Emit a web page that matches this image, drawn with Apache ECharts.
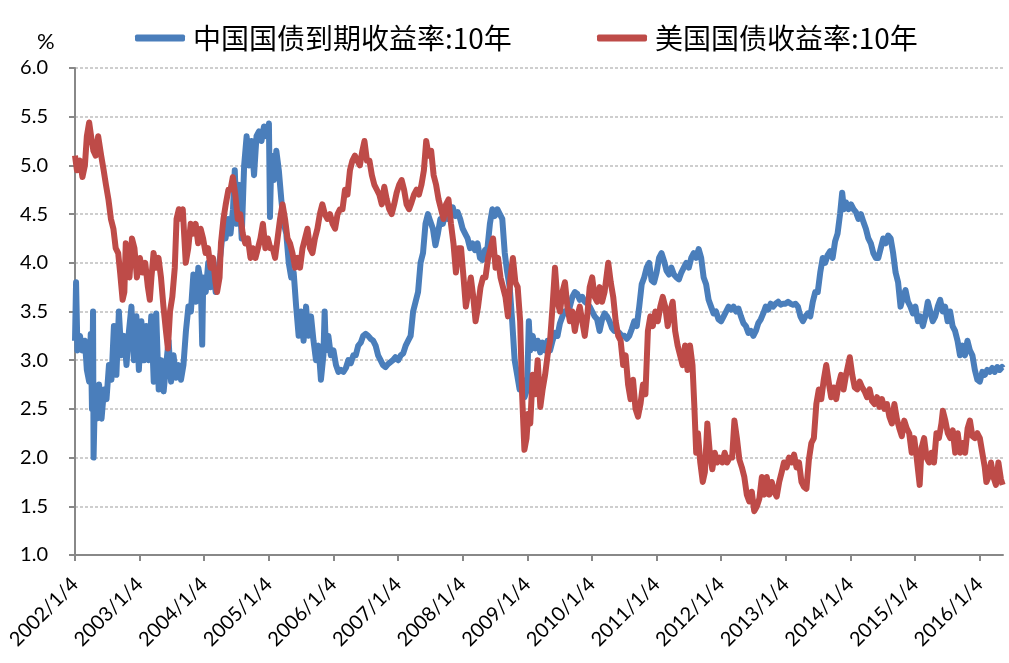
<!DOCTYPE html>
<html>
<head>
<meta charset="utf-8">
<script src="https://cdn.jsdelivr.net/npm/echarts@6/dist/echarts.min.js"></script>
<style>html,body{margin:0;padding:0;background:#fff;}#chart{width:1009px;height:663px;}</style>
</head>
<body>
<div id="chart"></div>
<script>
const seriesNames = ['中国国债到期收益率:10年', '美国国债收益率:10年'];
const xTickLabels = ['2002/1/4','2003/1/4','2004/1/4','2005/1/4','2006/1/4','2007/1/4','2008/1/4','2009/1/4','2010/1/4','2011/1/4','2012/1/4','2013/1/4','2014/1/4','2015/1/4','2016/1/4'];
const xStart = '2002-01-04';
const xEnd = '2016-05-15';
const yTicks = [1.0,1.5,2.0,2.5,3.0,3.5,4.0,4.5,5.0,5.5,6.0];

const cnYield = [
["2002-01-04",3.20],["2002-01-10",3.80],["2002-01-18",3.10],["2002-02-01",3.25],["2002-02-15",3.10],["2002-03-01",3.20],["2002-03-12",2.90],["2002-03-25",2.78],["2002-04-03",3.27],["2002-04-10",2.50],["2002-04-16",3.50],["2002-04-19",2.00],["2002-04-26",2.60],["2002-05-08",2.40],["2002-05-20",2.75],["2002-06-03",2.40],["2002-06-17",2.70],["2002-07-01",2.60],["2002-07-15",2.95],["2002-07-29",2.80],["2002-08-12",3.35],["2002-08-26",2.85],["2002-09-09",3.50],["2002-09-23",3.05],["2002-10-08",3.25],["2002-10-22",2.95],["2002-11-05",3.30],["2002-11-19",3.55],["2002-12-03",3.00],["2002-12-17",3.45],["2002-12-31",2.90],
["2003-01-14",3.40],["2003-01-28",3.00],["2003-02-11",3.35],["2003-02-25",3.00],["2003-03-11",3.45],["2003-03-25",2.78],["2003-04-08",3.48],["2003-04-22",2.70],["2003-05-06",3.00],["2003-05-20",2.68],["2003-06-03",2.95],["2003-06-17",3.20],["2003-07-01",2.78],["2003-07-15",3.05],["2003-07-29",2.82],["2003-08-12",2.95],["2003-08-26",2.80],["2003-09-09",2.95],["2003-09-23",3.30],["2003-10-07",3.55],["2003-10-21",3.50],["2003-11-04",3.88],["2003-11-18",3.60],["2003-12-02",3.95],["2003-12-16",3.80],["2003-12-24",3.16],["2003-12-30",3.85],
["2004-01-13",3.70],["2004-01-27",4.00],["2004-02-10",3.75],["2004-02-24",3.95],["2004-03-09",3.70],["2004-03-23",3.90],["2004-04-06",4.10],["2004-04-20",4.35],["2004-05-04",4.25],["2004-05-18",4.45],["2004-06-01",4.30],["2004-06-15",4.55],["2004-06-25",4.95],["2004-07-06",4.40],["2004-07-20",4.80],["2004-08-03",4.25],["2004-08-17",5.00],["2004-08-31",5.30],["2004-09-14",5.00],["2004-09-28",5.25],["2004-10-12",4.90],["2004-10-26",5.30],["2004-11-09",5.35],["2004-11-23",5.25],["2004-12-07",5.40],["2004-12-21",5.30],
["2005-01-04",5.43],["2005-01-10",4.47],["2005-01-18",5.10],["2005-02-01",4.85],["2005-02-15",5.15],["2005-03-01",4.95],["2005-03-15",4.65],["2005-03-29",4.40],["2005-04-12",4.30],["2005-04-26",4.00],["2005-05-10",3.85],["2005-05-24",3.90],["2005-06-07",3.55],["2005-06-21",3.25],["2005-07-05",3.50],["2005-07-19",3.20],["2005-08-02",3.55],["2005-08-16",3.25],["2005-08-30",3.45],["2005-09-13",3.20],["2005-09-27",3.00],["2005-10-11",3.15],["2005-10-25",2.80],["2005-11-08",3.05],["2005-11-15",3.50],["2005-11-22",3.10],["2005-12-06",3.25],["2005-12-20",3.05],
["2006-01-04",3.10],["2006-01-18",2.95],["2006-02-01",2.88],["2006-02-15",2.90],["2006-03-01",2.88],["2006-03-15",2.92],["2006-03-29",3.00],["2006-04-12",2.97],["2006-04-26",3.05],["2006-05-10",3.05],["2006-05-24",3.15],["2006-06-07",3.18],["2006-06-21",3.25],["2006-07-05",3.27],["2006-07-19",3.25],["2006-08-02",3.22],["2006-08-16",3.20],["2006-08-30",3.15],["2006-09-13",3.05],["2006-09-27",3.00],["2006-10-11",2.95],["2006-10-25",2.93],["2006-11-08",2.96],["2006-11-22",2.98],["2006-12-06",3.00],["2006-12-20",3.03],
["2007-01-05",3.00],["2007-01-19",3.05],["2007-02-02",3.07],["2007-02-16",3.15],["2007-03-02",3.20],["2007-03-16",3.25],["2007-03-30",3.50],["2007-04-13",3.60],["2007-04-27",3.70],["2007-05-11",4.00],["2007-05-25",4.10],["2007-06-08",4.40],["2007-06-22",4.50],["2007-07-06",4.42],["2007-07-20",4.35],["2007-08-03",4.18],["2007-08-17",4.30],["2007-08-31",4.45],["2007-09-14",4.40],["2007-09-28",4.50],["2007-10-12",4.45],["2007-10-26",4.50],["2007-11-09",4.57],["2007-11-23",4.48],["2007-12-07",4.52],["2007-12-21",4.45],
["2008-01-04",4.35],["2008-01-18",4.30],["2008-02-01",4.25],["2008-02-15",4.15],["2008-02-29",4.20],["2008-03-14",4.13],["2008-03-28",4.20],["2008-04-11",4.05],["2008-04-25",4.03],["2008-05-09",4.13],["2008-05-23",4.15],["2008-06-06",4.40],["2008-06-20",4.55],["2008-07-04",4.48],["2008-07-18",4.55],["2008-08-01",4.50],["2008-08-15",4.45],["2008-08-29",4.10],["2008-09-12",3.90],["2008-09-26",3.75],["2008-10-10",3.40],["2008-10-24",3.00],["2008-11-07",2.85],["2008-11-21",2.70],["2008-12-05",2.80],["2008-12-19",2.62],
["2009-01-02",2.70],["2009-01-12",3.40],["2009-01-20",3.10],["2009-02-03",3.25],["2009-02-17",3.12],["2009-03-03",3.20],["2009-03-17",3.08],["2009-03-31",3.18],["2009-04-14",3.10],["2009-04-28",3.20],["2009-05-12",3.10],["2009-05-26",3.20],["2009-06-09",3.28],["2009-06-23",3.25],["2009-07-07",3.38],["2009-07-21",3.45],["2009-08-04",3.50],["2009-08-18",3.48],["2009-09-01",3.55],["2009-09-15",3.65],["2009-09-29",3.70],["2009-10-13",3.68],["2009-10-27",3.62],["2009-11-10",3.65],["2009-11-24",3.60],["2009-12-08",3.58],["2009-12-22",3.55],
["2010-01-05",3.50],["2010-01-19",3.45],["2010-02-02",3.42],["2010-02-16",3.30],["2010-03-02",3.42],["2010-03-16",3.48],["2010-03-30",3.45],["2010-04-13",3.40],["2010-04-27",3.33],["2010-05-11",3.30],["2010-05-25",3.30],["2010-06-08",3.28],["2010-06-22",3.25],["2010-07-06",3.25],["2010-07-20",3.22],["2010-08-03",3.25],["2010-08-17",3.32],["2010-08-31",3.40],["2010-09-14",3.35],["2010-09-28",3.55],["2010-10-12",3.78],["2010-10-26",3.85],["2010-11-09",3.95],["2010-11-23",4.00],["2010-12-07",3.82],["2010-12-21",3.80],
["2011-01-04",3.90],["2011-01-18",4.05],["2011-02-01",4.10],["2011-02-15",4.02],["2011-03-01",3.92],["2011-03-15",3.88],["2011-03-29",3.95],["2011-04-12",3.88],["2011-04-26",3.85],["2011-05-10",3.83],["2011-05-24",3.90],["2011-06-07",3.95],["2011-06-21",4.00],["2011-07-05",3.95],["2011-07-19",4.05],["2011-08-02",4.10],["2011-08-16",4.05],["2011-08-30",4.14],["2011-09-13",4.05],["2011-09-27",3.85],["2011-10-11",3.78],["2011-10-25",3.62],["2011-11-08",3.55],["2011-11-22",3.48],["2011-12-06",3.50],["2011-12-20",3.42],
["2012-01-04",3.40],["2012-01-18",3.45],["2012-02-01",3.50],["2012-02-15",3.55],["2012-02-29",3.52],["2012-03-14",3.55],["2012-03-28",3.50],["2012-04-11",3.53],["2012-04-25",3.45],["2012-05-09",3.38],["2012-05-23",3.35],["2012-06-06",3.28],["2012-06-20",3.30],["2012-07-04",3.25],["2012-07-18",3.30],["2012-08-01",3.38],["2012-08-15",3.42],["2012-08-29",3.48],["2012-09-12",3.55],["2012-09-26",3.52],["2012-10-10",3.58],["2012-10-24",3.55],["2012-11-07",3.58],["2012-11-21",3.60],["2012-12-05",3.57],["2012-12-19",3.58],
["2013-01-02",3.58],["2013-01-16",3.60],["2013-01-30",3.58],["2013-02-13",3.57],["2013-02-27",3.58],["2013-03-13",3.55],["2013-03-27",3.45],["2013-04-10",3.40],["2013-04-24",3.45],["2013-05-08",3.48],["2013-05-22",3.45],["2013-06-05",3.60],["2013-06-19",3.70],["2013-07-03",3.70],["2013-07-17",3.90],["2013-07-31",4.05],["2013-08-14",4.00],["2013-08-28",4.08],["2013-09-11",4.12],["2013-09-25",4.05],["2013-10-09",4.22],["2013-10-23",4.30],["2013-11-06",4.50],["2013-11-18",4.72],["2013-11-28",4.55],["2013-12-10",4.62],["2013-12-24",4.55],
["2014-01-07",4.60],["2014-01-21",4.55],["2014-02-04",4.52],["2014-02-18",4.45],["2014-03-04",4.50],["2014-03-18",4.42],["2014-04-01",4.35],["2014-04-15",4.25],["2014-04-29",4.20],["2014-05-13",4.10],["2014-05-27",4.05],["2014-06-10",4.05],["2014-06-24",4.15],["2014-07-08",4.25],["2014-07-22",4.20],["2014-08-05",4.28],["2014-08-19",4.25],["2014-09-02",4.10],["2014-09-16",3.90],["2014-09-30",3.80],["2014-10-14",3.55],["2014-10-28",3.65],["2014-11-11",3.72],["2014-11-25",3.60],["2014-12-09",3.55],["2014-12-23",3.48],
["2015-01-06",3.55],["2015-01-20",3.40],["2015-02-03",3.45],["2015-02-17",3.35],["2015-03-03",3.45],["2015-03-17",3.60],["2015-03-31",3.50],["2015-04-14",3.40],["2015-04-28",3.45],["2015-05-12",3.55],["2015-05-26",3.62],["2015-06-09",3.50],["2015-06-23",3.55],["2015-07-07",3.40],["2015-07-21",3.50],["2015-08-04",3.35],["2015-08-18",3.30],["2015-09-01",3.20],["2015-09-15",3.05],["2015-09-29",3.15],["2015-10-13",3.05],["2015-10-27",3.20],["2015-11-10",3.10],["2015-11-24",3.05],["2015-12-08",2.90],["2015-12-22",2.80],
["2016-01-05",2.78],["2016-01-19",2.88],["2016-02-02",2.85],["2016-02-16",2.90],["2016-03-01",2.88],["2016-03-15",2.92],["2016-03-29",2.88],["2016-04-12",2.93],["2016-04-26",2.90],["2016-05-10",2.93],["2016-05-13",2.92]
];

const usYield = [
["2002-01-04",5.10],["2002-01-15",4.95],["2002-02-01",5.05],["2002-02-15",4.88],["2002-03-01",5.00],["2002-03-12",5.30],["2002-03-25",5.44],["2002-04-05",5.30],["2002-04-18",5.15],["2002-05-01",5.10],["2002-05-15",5.30],["2002-06-01",5.10],["2002-06-15",4.95],["2002-06-28",4.80],["2002-07-12",4.65],["2002-07-26",4.45],["2002-08-09",4.35],["2002-08-22",4.15],["2002-09-05",4.10],["2002-09-16",3.90],["2002-09-30",3.62],["2002-10-10",3.70],["2002-10-18",4.20],["2002-11-01",3.95],["2002-11-08",3.85],["2002-11-22",4.25],["2002-12-06",4.15],["2002-12-20",3.85],
["2003-01-06",4.05],["2003-01-20",3.90],["2003-02-05",4.00],["2003-02-20",3.75],["2003-03-03",3.62],["2003-03-12",3.85],["2003-03-24",4.10],["2003-04-07",3.95],["2003-04-21",4.05],["2003-05-05",3.85],["2003-05-19",3.55],["2003-06-02",3.30],["2003-06-13",3.12],["2003-06-25",3.50],["2003-07-08",3.65],["2003-07-22",3.95],["2003-08-01",4.45],["2003-08-14",4.55],["2003-08-28",4.45],["2003-09-05",4.55],["2003-09-22",4.00],["2003-10-06",4.15],["2003-10-20",4.40],["2003-11-03",4.30],["2003-11-17",4.40],["2003-12-01",4.20],["2003-12-15",4.35],["2003-12-29",4.25],
["2004-01-12",4.10],["2004-01-26",4.15],["2004-02-09",3.95],["2004-02-23",4.05],["2004-03-08",3.80],["2004-03-17",3.70],["2004-03-31",3.85],["2004-04-08",4.20],["2004-04-22",4.45],["2004-05-05",4.60],["2004-05-20",4.75],["2004-06-01",4.75],["2004-06-14",4.88],["2004-06-28",4.70],["2004-07-12",4.45],["2004-07-26",4.50],["2004-08-09",4.30],["2004-08-23",4.20],["2004-09-07",4.25],["2004-09-22",4.05],["2004-10-05",4.15],["2004-10-20",4.05],["2004-11-03",4.15],["2004-11-17",4.25],["2004-12-01",4.40],["2004-12-15",4.15],["2004-12-29",4.25],
["2005-01-12",4.15],["2005-01-26",4.15],["2005-02-08",4.05],["2005-02-22",4.25],["2005-03-08",4.45],["2005-03-22",4.60],["2005-04-05",4.45],["2005-04-19",4.25],["2005-05-03",4.20],["2005-05-17",4.10],["2005-06-01",3.95],["2005-06-15",4.05],["2005-06-29",3.95],["2005-07-13",4.15],["2005-07-27",4.25],["2005-08-10",4.35],["2005-08-24",4.15],["2005-09-07",4.10],["2005-09-21",4.25],["2005-10-05",4.35],["2005-10-19",4.50],["2005-11-02",4.60],["2005-11-16",4.50],["2005-12-01",4.45],["2005-12-15",4.50],["2005-12-30",4.40],
["2006-01-13",4.35],["2006-01-27",4.50],["2006-02-10",4.55],["2006-02-24",4.55],["2006-03-10",4.75],["2006-03-24",4.70],["2006-04-07",4.95],["2006-04-21",5.05],["2006-05-05",5.10],["2006-05-19",5.05],["2006-06-02",5.00],["2006-06-16",5.15],["2006-06-28",5.25],["2006-07-12",5.05],["2006-07-26",5.05],["2006-08-09",4.90],["2006-08-23",4.80],["2006-09-06",4.75],["2006-09-20",4.70],["2006-10-04",4.60],["2006-10-18",4.78],["2006-11-01",4.65],["2006-11-15",4.55],["2006-11-29",4.50],["2006-12-13",4.60],["2006-12-27",4.72],
["2007-01-10",4.80],["2007-01-24",4.85],["2007-02-07",4.75],["2007-02-21",4.60],["2007-03-07",4.55],["2007-03-21",4.62],["2007-04-04",4.70],["2007-04-18",4.75],["2007-05-02",4.70],["2007-05-16",4.80],["2007-05-30",4.95],["2007-06-12",5.25],["2007-06-26",5.10],["2007-07-10",5.15],["2007-07-24",4.90],["2007-08-07",4.80],["2007-08-21",4.65],["2007-09-04",4.55],["2007-09-18",4.45],["2007-10-02",4.60],["2007-10-16",4.65],["2007-10-30",4.40],["2007-11-13",4.20],["2007-11-27",3.90],["2007-12-11",4.15],["2007-12-26",4.15],
["2008-01-09",3.85],["2008-01-22",3.55],["2008-02-05",3.70],["2008-02-19",3.85],["2008-03-04",3.65],["2008-03-17",3.40],["2008-03-31",3.55],["2008-04-14",3.75],["2008-04-28",3.85],["2008-05-12",3.85],["2008-05-27",4.05],["2008-06-10",4.15],["2008-06-24",4.25],["2008-07-08",3.95],["2008-07-22",4.05],["2008-08-05",3.85],["2008-08-19",3.75],["2008-09-02",3.65],["2008-09-16",3.45],["2008-09-30",3.85],["2008-10-14",4.05],["2008-10-28",3.80],["2008-11-10",3.75],["2008-11-24",3.40],["2008-12-05",2.65],["2008-12-18",2.08],["2008-12-30",2.20],
["2009-01-09",2.45],["2009-01-20",2.35],["2009-02-03",2.85],["2009-02-17",2.65],["2009-03-03",3.00],["2009-03-18",2.52],["2009-03-31",2.70],["2009-04-14",2.85],["2009-04-28",3.05],["2009-05-12",3.20],["2009-05-26",3.55],["2009-06-09",3.95],["2009-06-23",3.60],["2009-07-07",3.50],["2009-07-21",3.70],["2009-08-04",3.80],["2009-08-18",3.55],["2009-09-01",3.40],["2009-09-15",3.50],["2009-09-29",3.30],["2009-10-13",3.45],["2009-10-27",3.55],["2009-11-10",3.40],["2009-11-24",3.25],["2009-12-08",3.45],["2009-12-22",3.75],
["2010-01-05",3.85],["2010-01-19",3.65],["2010-02-02",3.60],["2010-02-16",3.75],["2010-03-02",3.60],["2010-03-16",3.70],["2010-03-30",3.90],["2010-04-06",4.00],["2010-04-20",3.80],["2010-05-04",3.65],["2010-05-18",3.40],["2010-06-01",3.25],["2010-06-15",3.20],["2010-06-29",2.95],["2010-07-13",3.05],["2010-07-27",2.75],["2010-08-10",2.60],["2010-08-24",2.80],["2010-09-07",2.50],["2010-09-21",2.42],["2010-10-05",2.55],["2010-10-19",2.75],["2010-11-02",2.65],["2010-11-16",3.30],["2010-11-30",3.45],["2010-12-14",3.35],["2010-12-28",3.50],
["2011-01-11",3.40],["2011-01-25",3.55],["2011-02-08",3.65],["2011-02-22",3.55],["2011-03-08",3.35],["2011-03-22",3.50],["2011-04-05",3.60],["2011-04-19",3.30],["2011-05-03",3.15],["2011-05-17",3.05],["2011-05-31",2.95],["2011-06-14",3.15],["2011-06-28",2.90],["2011-07-12",3.15],["2011-07-26",2.95],["2011-08-05",2.55],["2011-08-16",2.05],["2011-08-26",2.25],["2011-09-08",1.95],["2011-09-22",1.75],["2011-10-04",1.85],["2011-10-18",2.35],["2011-11-01",2.05],["2011-11-15",1.88],["2011-11-29",2.05],["2011-12-13",1.95],["2011-12-27",2.00],
["2012-01-10",1.95],["2012-01-24",2.05],["2012-02-07",1.95],["2012-02-21",2.00],["2012-03-06",2.00],["2012-03-19",2.38],["2012-04-02",2.20],["2012-04-16",1.98],["2012-04-30",1.90],["2012-05-14",1.80],["2012-05-28",1.62],["2012-06-11",1.55],["2012-06-25",1.65],["2012-07-09",1.45],["2012-07-24",1.50],["2012-08-07",1.58],["2012-08-21",1.80],["2012-09-04",1.62],["2012-09-18",1.80],["2012-10-02",1.62],["2012-10-16",1.75],["2012-10-30",1.65],["2012-11-13",1.60],["2012-11-27",1.75],["2012-12-11",1.85],["2012-12-24",1.95],
["2013-01-08",1.90],["2013-01-22",2.00],["2013-02-05",1.95],["2013-02-19",2.03],["2013-03-05",1.90],["2013-03-19",1.95],["2013-04-02",1.75],["2013-04-16",1.70],["2013-04-30",1.68],["2013-05-14",1.98],["2013-05-28",2.15],["2013-06-11",2.20],["2013-06-25",2.55],["2013-07-09",2.70],["2013-07-23",2.60],["2013-08-06",2.80],["2013-08-20",2.95],["2013-09-05",2.75],["2013-09-17",2.62],["2013-10-01",2.72],["2013-10-15",2.60],["2013-10-29",2.75],["2013-11-12",2.85],["2013-11-26",2.70],["2013-12-10",2.85],["2013-12-31",3.03],
["2014-01-14",2.85],["2014-01-28",2.72],["2014-02-11",2.70],["2014-02-25",2.78],["2014-03-11",2.72],["2014-03-25",2.68],["2014-04-08",2.62],["2014-04-22",2.70],["2014-05-06",2.58],["2014-05-20",2.55],["2014-06-03",2.62],["2014-06-17",2.52],["2014-07-01",2.60],["2014-07-15",2.50],["2014-07-29",2.55],["2014-08-12",2.42],["2014-08-26",2.35],["2014-09-09",2.55],["2014-09-23",2.40],["2014-10-07",2.30],["2014-10-21",2.22],["2014-11-04",2.38],["2014-11-18",2.30],["2014-12-02",2.25],["2014-12-16",2.05],["2014-12-30",2.20],
["2015-01-13",2.00],["2015-01-30",1.72],["2015-02-10",2.10],["2015-02-24",2.20],["2015-03-10",2.00],["2015-03-24",1.95],["2015-04-07",2.05],["2015-04-21",1.95],["2015-05-05",2.25],["2015-05-19",2.20],["2015-06-02",2.35],["2015-06-10",2.48],["2015-06-24",2.38],["2015-07-08",2.25],["2015-07-22",2.20],["2015-08-05",2.28],["2015-08-19",2.05],["2015-09-02",2.25],["2015-09-16",2.05],["2015-09-30",2.15],["2015-10-14",2.05],["2015-10-28",2.30],["2015-11-10",2.38],["2015-11-24",2.22],["2015-12-08",2.20],["2015-12-22",2.25],
["2016-01-05",2.20],["2016-01-19",2.05],["2016-02-02",1.90],["2016-02-11",1.75],["2016-02-23",1.80],["2016-03-08",1.95],["2016-03-22",1.80],["2016-04-05",1.72],["2016-04-19",1.95],["2016-05-03",1.78],["2016-05-13",1.72]
];

function toTime(s) { return Date.parse(s + 'T00:00:00Z'); }
function labelToTime(s) { const p = s.split('/').map(Number); return Date.UTC(p[0], p[1] - 1, p[2]); }
const tickValues = xTickLabels.map(labelToTime);
const labelMap = {};
xTickLabels.forEach((l, i) => { labelMap[tickValues[i]] = l; });

const axisGray = '#888888';
const legendText = { fontSize: 28, fontFamily: 'Noto Sans CJK SC', color: '#000', padding: [0, 0, 0, 3] };
const chart = echarts.init(document.getElementById('chart'), null, { renderer: 'canvas' });
chart.setOption({
  animation: false,
  backgroundColor: '#ffffff',
  grid: { left: 75, right: 6, top: 68, bottom: 108, containLabel: false },
  legend: [
    { data: [seriesNames[0]], left: 130, top: 19, itemWidth: 50, itemHeight: 7, icon: 'roundRect', itemGap: 0, textStyle: legendText },
    { data: [seriesNames[1]], left: 592, top: 19, itemWidth: 50, itemHeight: 7, icon: 'roundRect', itemGap: 0, textStyle: legendText }
  ],
  graphic: [{ type: 'text', left: 37, top: 31, style: { text: '%', font: '22px Lato', fill: '#000' } }],
  xAxis: {
    type: 'value', min: toTime(xStart), max: toTime(xEnd),
    axisLine: { show: true, lineStyle: { color: axisGray, width: 2 } },
    axisTick: { show: true, customValues: tickValues, length: 6, lineStyle: { color: axisGray, width: 2 } },
    axisLabel: { customValues: tickValues, rotate: 45, margin: 26, fontSize: 20, fontFamily: 'Lato', color: '#000',
      formatter: v => labelMap[v] || '' },
    splitLine: { show: false }
  },
  yAxis: {
    type: 'value', min: yTicks[0], max: yTicks[yTicks.length - 1], interval: 0.5,
    axisLine: { show: true, lineStyle: { color: axisGray, width: 2 } },
    axisTick: { show: true, length: 6, lineStyle: { color: axisGray, width: 2 } },
    axisLabel: { margin: 27, fontSize: 20, fontFamily: 'Lato', color: '#000', formatter: v => v.toFixed(1) },
    splitLine: { show: true, lineStyle: { type: [3, 2], color: '#BFBFBF', width: 1.5 } }
  },
  series: [
    { name: seriesNames[0], type: 'line', showSymbol: false, symbol: 'none', color: '#4A7EBB',
      lineStyle: { width: 6, color: '#4A7EBB', join: 'round' },
      data: cnYield.map(d => [toTime(d[0]), d[1]]) },
    { name: seriesNames[1], type: 'line', showSymbol: false, symbol: 'none', color: '#BE4B48',
      lineStyle: { width: 6, color: '#BE4B48', join: 'round' },
      data: usYield.map(d => [toTime(d[0]), d[1]]) }
  ]
});
</script>
</body>
</html>
